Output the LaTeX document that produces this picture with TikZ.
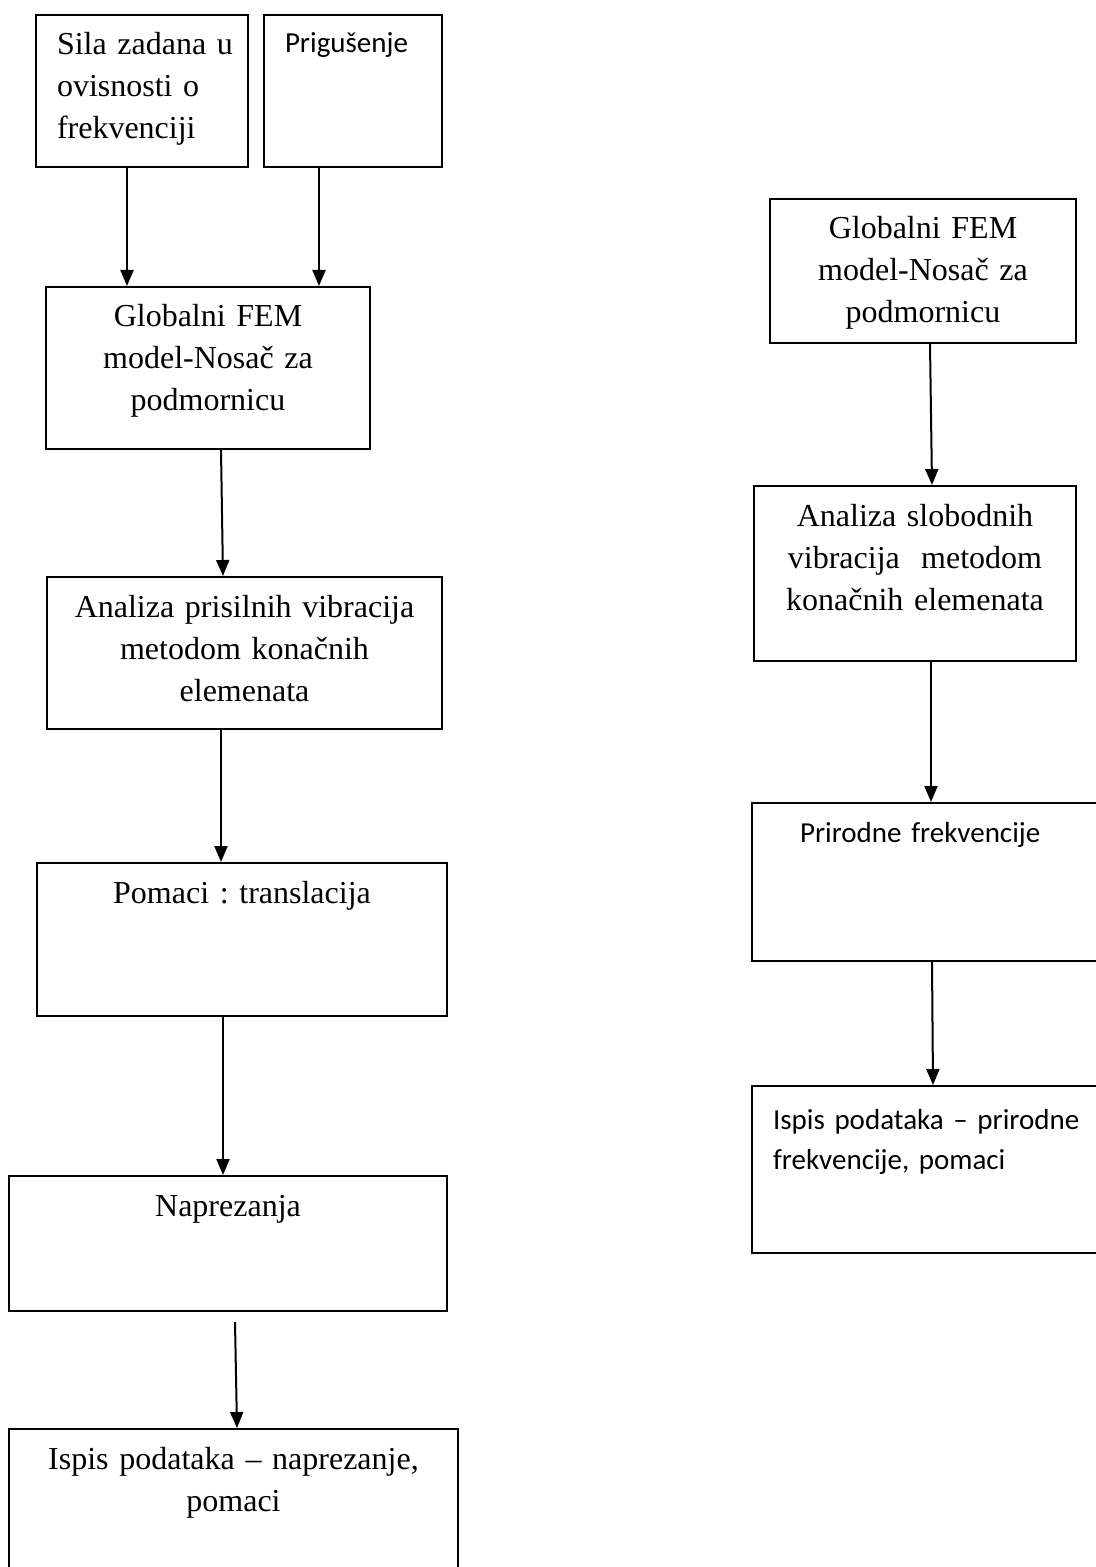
\documentclass[tikz,border=0pt]{standalone}
\usepackage{fontspec}
\setmainfont{Liberation Serif}
\newfontfamily\calibri{Carlito}
\usetikzlibrary{arrows.meta}
\begin{document}
\begin{tikzpicture}[x=0.5pt,y=-0.5pt]
	% styles des cadres
	\tikzstyle{bloc}=[rectangle,draw,line width=1pt,anchor=north west,inner sep=0pt,align=center,text height=20pt,font=\frenchspacing\fontsize{16}{21}\selectfont]
	\tikzstyle{blocsans}=[bloc,align=left,inner xsep=10.5pt,text height=19pt,font=\frenchspacing\calibri\fontsize{14.5}{20}\selectfont]
	\tikzstyle{fleche}=[-{Triangle[width=6.5pt,length=8pt]},line width=1pt]
	\useasboundingbox (0,0) rectangle (1096,1567);
	% colonne gauche : vibracije prisilne
	\node[bloc,align=left,inner xsep=10.5pt,text width=85pt,text depth=56pt] (sila) at (35,14) {\mbox{Sila zadana u}\\ovisnosti o\\frekvenciji};
	\node[blocsans,text width=68pt,text depth=57pt] (prig) at (263,14) {Prigušenje};
	\node[bloc,text width=162pt,text depth=61pt] (glob) at (45,286) {Globalni FEM\\model-Nosač za\\podmornicu};
	\node[bloc,text width=197.5pt,text depth=56pt] (anal) at (46,576) {Analiza prisilnih vibracija\\metodom konačnih\\elemenata};
	\node[bloc,text width=205pt,text depth=56.5pt] (pom) at (36,862) {Pomaci : translacija};
	\node[bloc,text width=219pt,text depth=47.5pt] (napr) at (8,1175) {Naprezanja};
	\node[bloc,text width=224.5pt,text depth=49.5pt] (ispis) at (8,1428) {Ispis podataka – naprezanje,\\pomaci};
	% colonne droite : vibracije slobodne
	\node[bloc,text width=153pt,text depth=52pt] (rglob) at (769,198) {Globalni FEM\\model-Nosač za\\podmornicu};
	\node[bloc,text width=161pt,text depth=67.5pt] (ranal) at (753,485) {Analiza slobodnih\\vibracija\ \ metodom\\konačnih elemenata};
	\node[blocsans,text width=152pt,text height=19.5pt,text depth=59.5pt] (rprir) at (751,802) {\hspace*{13.5pt}Prirodne frekvencije};
	\node[blocsans,text width=152pt,text height=21.5pt,text depth=62pt] (rispis) at (751,1085) {\mbox{Ispis podataka – prirodne}\\frekvencije, pomaci};
	% liaisons
	\draw[fleche] ([xshift=46pt]sila.south west) -- ([xshift=41pt]glob.north west);
	\draw[fleche] ([xshift=28pt]prig.south west) -- ([xshift=137pt]glob.north west);
	\draw[fleche] ([xshift=88pt]glob.south west) -- ([xshift=88.5pt]anal.north west);
	\draw[fleche] ([xshift=87.5pt]anal.south west) -- ([xshift=92.5pt]pom.north west);
	\draw[fleche] ([xshift=93.5pt]pom.south west) -- ([xshift=107.5pt]napr.north west);
	\draw[fleche] ([xshift=113.5pt,yshift=-5pt]napr.south west) -- ([xshift=114.5pt]ispis.north west);
	\draw[fleche] ([xshift=80.5pt]rglob.south west) -- ([xshift=89.5pt]ranal.north west);
	\draw[fleche] ([xshift=89pt]ranal.south west) -- ([xshift=90pt]rprir.north west);
	\draw[fleche] ([xshift=90.5pt]rprir.south west) -- ([xshift=91pt]rispis.north west);
\end{tikzpicture}
\end{document}
